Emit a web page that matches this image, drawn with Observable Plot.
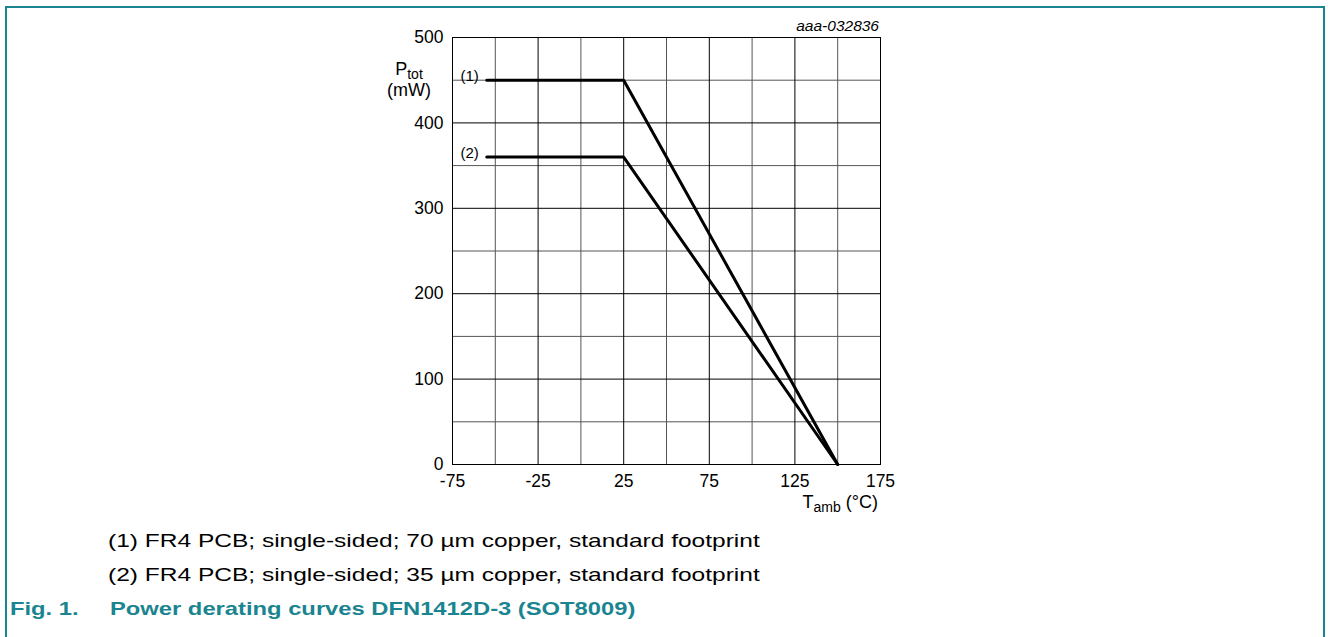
<!DOCTYPE html>
<html>
<head>
<meta charset="utf-8">
<script src="https://cdn.jsdelivr.net/npm/d3@7"></script>
<script src="https://cdn.jsdelivr.net/npm/@observablehq/plot@0.6"></script>
<style>
  html, body { margin: 0; padding: 0; background: #fff; }
  body { width: 1328px; height: 637px; position: relative; overflow: hidden; font-family: "Liberation Sans", Arial, sans-serif; }
  #frame { position: absolute; left: 5px; top: 6px; width: 1320px; height: 640px; border-left: 2px solid #1a8590; border-top: 2px solid #1a8590; border-right: 2px solid #1a8590; box-sizing: border-box; }
  #chart { position: absolute; left: 0; top: 0; }
  .note { position: absolute; left: 108px; font-size: 19px; color: #000; white-space: nowrap; transform: scaleX(1.29); transform-origin: 0 0; }
  .fig { position: absolute; top: 598px; font-size: 19px; font-weight: bold; color: #1a8590; white-space: nowrap; transform: scaleX(1.25); transform-origin: 0 0; }
</style>
</head>
<body>
<div id="frame"></div>
<div id="chart"></div>
<div class="note" style="top:530px">(1) FR4 PCB; single-sided; 70 µm copper, standard footprint</div>
<div class="note" style="top:564px">(2) FR4 PCB; single-sided; 35 µm copper, standard footprint</div>
<div class="fig" style="left:10px">Fig. 1.</div>
<div class="fig" style="left:110px">Power derating curves DFN1412D-3 (SOT8009)</div>
<script>
// Data
const tamb = [-55, 25, 150];
const ptot1 = [450, 450, 0];   // (1) 70 µm copper
const ptot2 = [360, 360, 0];   // (2) 35 µm copper
const curveLabels = ["(1)", "(2)"];
const xTicks = [-75, -25, 25, 75, 125, 175];
const xMinor = [-50, 0, 50, 100, 150];
const yTicks = [0, 100, 200, 300, 400, 500];
const yMinor = [50, 150, 250, 350, 450];

const curve1 = tamb.map((t, i) => ({t, p: ptot1[i], s: curveLabels[0]}));
const curve2 = tamb.map((t, i) => ({t, p: ptot2[i], s: curveLabels[1]}));
const labels = [
  {t: tamb[0], p: ptot1[0], s: curveLabels[0]},
  {t: tamb[0], p: ptot2[0], s: curveLabels[1]}
];

const W = 1328, H = 520;
const chart = Plot.plot({
  width: W,
  height: H,
  marginLeft: 452,
  marginRight: W - 880,
  marginTop: 37,
  marginBottom: H - 464,
  style: {fontFamily: "'Liberation Sans', Arial, sans-serif", fontSize: "17px", color: "#000", background: "transparent"},
  x: {domain: [-75, 175], ticks: xTicks, tickSize: 0, tickPadding: 10, tickFormat: d => String(d), label: null},
  y: {domain: [0, 500], ticks: yTicks, tickSize: 0, tickPadding: 9, tickFormat: d => String(d), label: null},
  marks: [
    Plot.ruleX(xMinor, {stroke: "#555", strokeWidth: 1}),
    Plot.ruleY(yMinor, {stroke: "#555", strokeWidth: 1}),
    Plot.ruleX(xTicks, {stroke: "#000", strokeWidth: 1}),
    Plot.ruleY(yTicks, {stroke: "#000", strokeWidth: 1}),
    Plot.frame({stroke: "#000", strokeWidth: 1}),
    Plot.line(curve1, {x: "t", y: "p", stroke: "#000", strokeWidth: 3, strokeLinejoin: "miter"}),
    Plot.line(curve2, {x: "t", y: "p", stroke: "#000", strokeWidth: 3, strokeLinejoin: "miter"}),
    Plot.text(labels, {x: "t", y: "p", text: "s", textAnchor: "end", dx: -8, dy: -4, fontSize: 15}),
    Plot.axisX({ticks: xTicks, tickSize: 0, tickPadding: 10, tickFormat: d => String(d), fontSize: 17.5}),
    Plot.axisY({ticks: yTicks, tickSize: 0, tickPadding: 9, tickFormat: d => String(d), fontSize: 17.5})
  ]
});
document.getElementById("chart").appendChild(chart);

// Axis titles with subscripts, and the drawing number
const svg = d3.select(chart);
const ff = "'Liberation Sans', Arial, sans-serif";
const pt = svg.append("text").attr("x", 409).attr("y", 75).attr("text-anchor", "middle")
  .attr("font-family", ff).attr("font-size", 18).attr("fill", "#000");
pt.append("tspan").text("P");
pt.append("tspan").attr("dy", 4).attr("font-size", 14).text("tot");
svg.append("text").attr("x", 409).attr("y", 96).attr("text-anchor", "middle")
  .attr("font-family", ff).attr("font-size", 18).attr("fill", "#000").text("(mW)");
const ta = svg.append("text").attr("x", 878).attr("y", 508).attr("text-anchor", "end")
  .attr("font-family", ff).attr("font-size", 18).attr("fill", "#000");
ta.append("tspan").text("T");
ta.append("tspan").attr("dy", 4).attr("font-size", 14).text("amb");
ta.append("tspan").attr("dy", -4).text(" (°C)");
svg.append("text").attr("x", 879).attr("y", 31).attr("text-anchor", "end")
  .attr("font-family", ff).attr("font-size", 15.5).attr("font-style", "italic").attr("fill", "#000").text("aaa-032836");
</script>
</body>
</html>
